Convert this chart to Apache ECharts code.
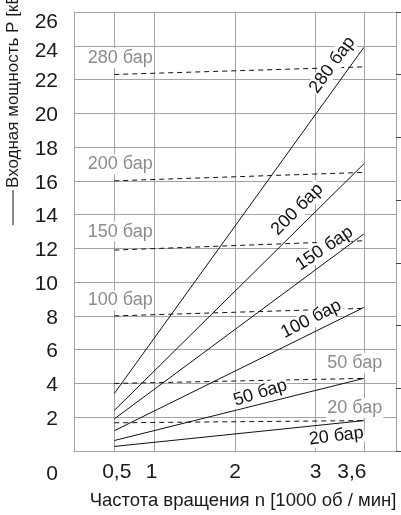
<!DOCTYPE html>
<html>
<head>
<meta charset="utf-8">
<script src="https://cdn.jsdelivr.net/npm/echarts@6/dist/echarts.min.js"></script>
<style>
  html, body { margin: 0; padding: 0; background: #fff; }
  #chart { width: 401px; height: 515px; }
</style>
</head>
<body>
<div id="chart"></div>
<script>
// Pump input power vs. shaft speed, one pair of lines per pressure level
const pressureNames = ['280 бар', '200 бар', '150 бар', '100 бар', '50 бар', '20 бар'];
const speedRange = [0.5, 3.6];                        // 1000 rpm
const powerAtMinSpeed = [3.4, 2.4, 1.9, 1.2, 0.62, 0.27]; // kW, solid lines
const powerAtMaxSpeed = [23.9, 17.0, 12.85, 8.5, 4.3, 1.8];
const torqueAtMinSpeed = [22.3, 16.0, 11.9, 8.0, 4.0, 1.67]; // dashed lines
const torqueAtMaxSpeed = [22.75, 16.5, 12.45, 8.45, 4.3, 1.8];
const speedTicks = [0.5, 1, 2, 3, 3.6];
const powerTicks = [0, 2, 4, 6, 8, 10, 12, 14, 16, 18, 20, 22, 24, 26];

// Label placement (pixel offsets from the line end, rotation in degrees)
const solidLabelLayout = [
  { dx: -31, dy: 18, rot: 54 },
  { dx: -66, dy: 46, rot: 45 },
  { dx: -39, dy: 15, rot: 34 },
  { dx: -52, dy: 12, rot: 27 },
  { dx: -103, dy: 15, rot: 17 },
  { dx: -27, dy: 16, rot: 7 }
];
// Dashed-line labels: attached to the first point (left) or last point (right)
const dashedLabelLayout = [
  { end: 0, dx: -27, dy: -16 },
  { end: 0, dx: -27, dy: -16 },
  { end: 0, dx: -27, dy: -18 },
  { end: 0, dx: -27, dy: -15 },
  { end: 1, dx: -37, dy: -15 },
  { end: 1, dx: -37, dy: -12 }
];

const FONT = 'Liberation Sans, Arial, sans-serif';
const GRID_COLOR = '#a3a3a3';
const TEXT_COLOR = '#1a1a1a';

const series = [];
pressureNames.forEach((name, i) => {
  const s = solidLabelLayout[i];
  series.push({
    name: name + ' P',
    type: 'line',
    yAxisIndex: 0,
    symbol: 'circle',
    symbolSize: 1,
    showSymbol: true,
    itemStyle: { color: 'rgba(0,0,0,0)' },
    lineStyle: { color: '#111', width: 1, type: 'solid' },
    silent: true,
    z: 3,
    data: [
      [speedRange[0], powerAtMinSpeed[i]],
      {
        value: [speedRange[1], powerAtMaxSpeed[i]],
        label: {
          show: true,
          formatter: name,
          position: [s.dx, s.dy],
          align: 'center',
          verticalAlign: 'middle',
          rotate: s.rot,
          color: '#111',
          fontFamily: FONT,
          fontSize: 18,
          backgroundColor: '#fff',
          padding: [0, 1, 0, 1]
        }
      }
    ]
  });

  const d = dashedLabelLayout[i];
  const dashedLabel = {
    show: true,
    formatter: name,
    position: [d.dx, d.dy],
    align: 'left',
    verticalAlign: 'middle',
    color: '#8c8c8c',
    fontFamily: FONT,
    fontSize: 18,
    backgroundColor: '#fff',
    padding: [1, 1, 1, 1]
  };
  const p0 = [speedRange[0], torqueAtMinSpeed[i]];
  const p1 = [speedRange[1], torqueAtMaxSpeed[i]];
  series.push({
    name: name + ' M',
    type: 'line',
    yAxisIndex: 0,
    symbol: 'circle',
    symbolSize: 1,
    showSymbol: true,
    itemStyle: { color: 'rgba(0,0,0,0)' },
    lineStyle: { color: '#111', width: 1, type: [5, 4] },
    silent: true,
    z: 2,
    data: d.end === 0
      ? [{ value: p0, label: dashedLabel }, p1]
      : [p0, { value: p1, label: dashedLabel }]
  });
});

const tickRich = (pad) => ({ fontFamily: FONT, fontSize: 21, color: TEXT_COLOR, padding: pad });

const chart = echarts.init(document.getElementById('chart'), null, { renderer: 'canvas' });
chart.setOption({
  animation: false,
  backgroundColor: '#fff',
  grid: { left: 74, right: 5, top: 12, bottom: 64, containLabel: false },
  xAxis: {
    type: 'value',
    min: 0,
    max: 4,
    name: 'Частота вращения n [1000 об / мин]',
    nameLocation: 'middle',
    nameGap: 40,
    nameTextStyle: { fontFamily: FONT, fontSize: 18.5, color: TEXT_COLOR, padding: [0, 0, 0, 16] },
    axisLine: { show: true, lineStyle: { color: GRID_COLOR, width: 1 } },
    axisTick: { show: false, customValues: speedTicks },
    axisLabel: {
      customValues: speedTicks,
      formatter: v => {
        const txt = String(v).replace('.', ',');
        if (v === 3.6) return '{l|' + txt + '}';
        if (v === 1) return '{s|' + txt + '}';
        if (v === 0.5) return '{r|' + txt + '}';
        return txt;
      },
      rich: {
        l: tickRich([0, 24, 0, 0]),
        s: tickRich([0, 6, 0, 0]),
        r: tickRich([0, 0, 0, 5])
      },
      fontFamily: FONT,
      fontSize: 21,
      color: TEXT_COLOR,
      margin: 11
    },
    splitLine: { show: true, lineStyle: { color: GRID_COLOR, width: 1 } }
  },
  yAxis: [
    {
      type: 'value',
      min: 0,
      max: 26,
      interval: 2,
      axisLine: { show: true, lineStyle: { color: GRID_COLOR, width: 1 } },
      axisTick: { show: false },
      axisLabel: {
        fontFamily: FONT,
        fontSize: 21,
        color: TEXT_COLOR,
        margin: 16,
        formatter: v => v === 0 ? '{z|0}' : v === 26 ? '{t|26}' : v === 24 ? '{u|24}' : '{n|' + v + '}',
        rich: {
          z: tickRich([46, 0, 0, 0]),
          t: tickRich([20, 0, 0, 0]),
          u: tickRich([10, 0, 0, 0]),
          n: tickRich([4, 0, 0, 0])
        }
      },
      splitLine: { show: true, lineStyle: { color: GRID_COLOR, width: 1 } }
    },
    {
      type: 'value',
      position: 'right',
      min: 0,
      max: 7,
      interval: 1,
      axisLine: { show: true, lineStyle: { color: GRID_COLOR, width: 1 } },
      axisTick: { show: true, inside: false, length: 6, lineStyle: { color: '#444', width: 1 } },
      axisLabel: { show: false },
      splitLine: { show: false }
    }
  ],
  graphic: [
    {
      type: 'line',
      shape: { x1: 13, y1: 225, x2: 13, y2: 190 },
      style: { stroke: '#111', lineWidth: 1 }
    },
    {
      type: 'text',
      x: 13,
      y: 188,
      rotation: Math.PI / 2,
      style: {
        text: 'Входная мощность P [кВт]',
        font: '17px ' + FONT,
        fill: TEXT_COLOR,
        align: 'left',
        verticalAlign: 'middle'
      }
    }
  ],
  series: series
});
</script>
</body>
</html>
